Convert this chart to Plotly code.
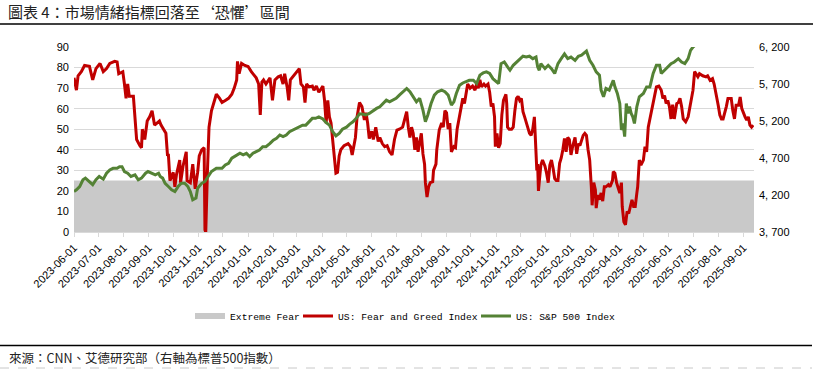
import plotly.graph_objects as go

# ---------------- data ----------------
fear_greed = [
    ("2023-06-01", 75), ("2023-06-04", 69), ("2023-06-06", 76), ("2023-06-10", 78), ("2023-06-14", 81),
    ("2023-06-20", 80.6), ("2023-06-24", 74), ("2023-06-28", 79.5), ("2023-07-03", 82), ("2023-07-07", 78),
    ("2023-07-11", 79.5), ("2023-07-15", 82), ("2023-07-21", 83), ("2023-07-24", 82.7), ("2023-07-26", 77),
    ("2023-07-31", 78), ("2023-08-02", 72), ("2023-08-04", 65), ("2023-08-06", 72), ("2023-08-08", 66),
    ("2023-08-13", 66), ("2023-08-16", 53), ("2023-08-17", 45), ("2023-08-21", 42), ("2023-08-23", 41),
    ("2023-08-24", 50), ("2023-08-27", 45), ("2023-08-30", 54), ("2023-09-02", 56), ("2023-09-05", 59),
    ("2023-09-08", 52), ("2023-09-11", 53), ("2023-09-14", 54), ("2023-09-16", 52), ("2023-09-19", 50),
    ("2023-09-22", 48), ("2023-09-24", 37), ("2023-09-25", 38), ("2023-09-27", 25), ("2023-10-01", 29),
    ("2023-10-03", 22), ("2023-10-05", 28), ("2023-10-09", 35), ("2023-10-10", 24), ("2023-10-13", 32),
    ("2023-10-17", 39), ("2023-10-18", 25), ("2023-10-22", 24), ("2023-10-25", 33), ("2023-10-28", 21),
    ("2023-10-31", 29), ("2023-11-02", 37), ("2023-11-05", 40), ("2023-11-08", 41), ("2023-11-09", 1),
    ("2023-11-10", 0), ("2023-11-12", 29), ("2023-11-14", 51), ("2023-11-17", 59), ("2023-11-21", 64),
    ("2023-11-23", 67), ("2023-11-27", 65), ("2023-11-30", 63), ("2023-12-04", 64), ("2023-12-08", 65),
    ("2023-12-12", 67), ("2023-12-15", 70), ("2023-12-18", 74), ("2023-12-19", 83), ("2023-12-21", 77),
    ("2023-12-24", 82), ("2023-12-28", 81), ("2024-01-01", 80.5), ("2024-01-05", 78), ("2024-01-11", 75),
    ("2024-01-14", 72), ("2024-01-16", 57), ("2024-01-18", 73), ("2024-01-20", 74), ("2024-01-23", 72),
    ("2024-01-28", 75), ("2024-01-31", 64), ("2024-02-03", 74), ("2024-02-07", 75.5), ("2024-02-10", 76),
    ("2024-02-13", 72), ("2024-02-15", 77), ("2024-02-18", 70.6), ("2024-02-20", 64), ("2024-02-22", 74),
    ("2024-02-25", 75.5), ("2024-02-29", 78), ("2024-03-04", 79.5), ("2024-03-06", 72), ("2024-03-09", 70.6),
    ("2024-03-11", 63), ("2024-03-13", 72), ("2024-03-16", 70.6), ("2024-03-20", 71), ("2024-03-22", 69),
    ("2024-03-25", 71), ("2024-03-28", 68), ("2024-04-02", 71), ("2024-04-04", 64), ("2024-04-06", 53),
    ("2024-04-08", 64), ("2024-04-10", 56), ("2024-04-12", 53), ("2024-04-14", 45), ("2024-04-16", 38),
    ("2024-04-18", 28.6), ("2024-04-20", 29), ("2024-04-22", 37), ("2024-04-24", 40), ("2024-04-28", 42),
    ("2024-05-03", 43), ("2024-05-06", 41.5), ("2024-05-08", 37.5), ("2024-05-10", 43), ("2024-05-12", 46),
    ("2024-05-14", 56), ("2024-05-17", 63), ("2024-05-20", 61), ("2024-05-23", 54.5), ("2024-05-25", 58),
    ("2024-05-27", 53), ("2024-05-29", 45.5), ("2024-06-01", 49), ("2024-06-03", 45), ("2024-06-06", 51),
    ("2024-06-09", 44), ("2024-06-11", 46), ("2024-06-14", 43), ("2024-06-17", 41.5), ("2024-06-20", 42),
    ("2024-06-23", 39), ("2024-06-26", 37.5), ("2024-06-29", 45), ("2024-07-02", 49.6), ("2024-07-05", 50),
    ("2024-07-09", 51), ("2024-07-12", 55), ("2024-07-14", 58.5), ("2024-07-16", 51), ("2024-07-18", 46),
    ("2024-07-20", 51), ("2024-07-22", 48), ("2024-07-24", 40), ("2024-07-26", 46), ("2024-07-28", 39),
    ("2024-07-30", 43), ("2024-08-01", 48), ("2024-08-03", 38), ("2024-08-05", 33), ("2024-08-06", 24),
    ("2024-08-08", 17), ("2024-08-10", 22), ("2024-08-12", 24), ("2024-08-15", 24.5), ("2024-08-16", 30),
    ("2024-08-19", 33), ("2024-08-20", 40), ("2024-08-23", 49.6), ("2024-08-26", 53), ("2024-08-28", 51),
    ("2024-08-30", 59), ("2024-09-01", 58), ("2024-09-03", 50), ("2024-09-05", 53), ("2024-09-07", 39),
    ("2024-09-10", 41.5), ("2024-09-12", 41), ("2024-09-14", 50), ("2024-09-16", 54.5), ("2024-09-19", 62.5),
    ("2024-09-21", 65), ("2024-09-23", 62.5), ("2024-09-25", 67), ("2024-09-27", 72), ("2024-09-30", 70),
    ("2024-10-03", 71), ("2024-10-06", 69), ("2024-10-08", 72), ("2024-10-10", 70), ("2024-10-12", 74),
    ("2024-10-14", 70.6), ("2024-10-17", 72), ("2024-10-19", 71), ("2024-10-22", 72), ("2024-10-24", 68),
    ("2024-10-26", 61), ("2024-10-28", 62.5), ("2024-10-30", 56), ("2024-10-31", 41.5), ("2024-11-02", 48),
    ("2024-11-04", 41), ("2024-11-06", 43), ("2024-11-08", 57), ("2024-11-10", 64), ("2024-11-13", 67),
    ("2024-11-14", 62.5), ("2024-11-15", 51), ("2024-11-17", 50), ("2024-11-20", 50), ("2024-11-22", 51),
    ("2024-11-24", 59), ("2024-11-26", 65), ("2024-11-28", 66), ("2024-11-30", 64), ("2024-12-02", 65),
    ("2024-12-04", 58.5), ("2024-12-06", 56), ("2024-12-08", 53.6), ("2024-12-10", 51), ("2024-12-12", 48),
    ("2024-12-14", 47), ("2024-12-16", 50), ("2024-12-18", 56), ("2024-12-19", 48), ("2024-12-20", 45),
    ("2024-12-21", 30), ("2024-12-22", 33), ("2024-12-23", 20), ("2024-12-25", 28.6), ("2024-12-26", 32.6),
    ("2024-12-28", 35), ("2024-12-31", 32), ("2025-01-02", 28.6), ("2025-01-04", 24), ("2025-01-06", 32.6),
    ("2025-01-08", 35), ("2025-01-10", 31), ("2025-01-12", 26), ("2025-01-14", 25), ("2025-01-16", 25),
    ("2025-01-18", 33.4), ("2025-01-20", 36), ("2025-01-22", 40), ("2025-01-24", 45.5), ("2025-01-26", 39),
    ("2025-01-28", 46), ("2025-01-30", 45), ("2025-02-01", 37.5), ("2025-02-03", 41.5), ("2025-02-06", 46),
    ("2025-02-08", 38), ("2025-02-10", 43), ("2025-02-12", 42), ("2025-02-14", 45), ("2025-02-16", 47),
    ("2025-02-18", 48), ("2025-02-20", 47), ("2025-02-22", 40), ("2025-02-24", 35), ("2025-02-26", 22),
    ("2025-02-27", 13), ("2025-03-01", 24), ("2025-03-03", 20.5), ("2025-03-04", 11.6), ("2025-03-06", 18),
    ("2025-03-08", 15.7), ("2025-03-10", 19), ("2025-03-12", 15), ("2025-03-14", 22), ("2025-03-16", 22),
    ("2025-03-19", 23), ("2025-03-21", 22), ("2025-03-24", 25), ("2025-03-25", 29.4), ("2025-03-27", 28.6),
    ("2025-03-29", 24), ("2025-03-31", 22), ("2025-04-02", 19), ("2025-04-04", 24), ("2025-04-05", 12.4),
    ("2025-04-07", 5), ("2025-04-09", 3.5), ("2025-04-11", 10), ("2025-04-13", 9), ("2025-04-15", 12.4),
    ("2025-04-17", 15.7), ("2025-04-19", 12.4), ("2025-04-21", 12.4), ("2025-04-23", 19), ("2025-04-24", 22),
    ("2025-04-26", 35), ("2025-04-28", 32.6), ("2025-05-01", 35), ("2025-05-03", 41.5), ("2025-05-05", 39),
    ("2025-05-07", 51), ("2025-05-09", 55), ("2025-05-11", 59), ("2025-05-14", 64), ("2025-05-17", 70.6),
    ("2025-05-20", 71), ("2025-05-23", 69), ("2025-05-25", 65), ("2025-05-27", 66.4), ("2025-05-29", 62.5),
    ("2025-05-31", 64), ("2025-06-02", 61), ("2025-06-04", 55), ("2025-06-06", 62), ("2025-06-08", 55),
    ("2025-06-11", 62.5), ("2025-06-13", 63), ("2025-06-15", 65), ("2025-06-17", 61), ("2025-06-19", 55),
    ("2025-06-22", 53.6), ("2025-06-25", 56), ("2025-06-27", 60), ("2025-06-29", 64), ("2025-07-01", 69),
    ("2025-07-03", 78), ("2025-07-05", 77), ("2025-07-07", 75.5), ("2025-07-09", 77), ("2025-07-13", 76),
    ("2025-07-17", 75.5), ("2025-07-19", 76), ("2025-07-22", 73.8), ("2025-07-25", 74.6), ("2025-07-27", 72),
    ("2025-07-29", 67), ("2025-08-01", 61.7), ("2025-08-03", 56.9), ("2025-08-05", 55), ("2025-08-07", 55),
    ("2025-08-09", 57.7), ("2025-08-11", 61), ("2025-08-13", 65), ("2025-08-17", 65), ("2025-08-19", 59),
    ("2025-08-21", 55), ("2025-08-23", 61.7), ("2025-08-26", 61.7), ("2025-08-28", 65.7), ("2025-08-30", 60),
    ("2025-09-03", 56), ("2025-09-05", 54.4), ("2025-09-07", 56), ("2025-09-09", 52), ("2025-09-11", 51),
    ("2025-09-13", 52),
]

sp500 = [
    ("2023-06-01", 4247), ("2023-06-04", 4270), ("2023-06-08", 4314), ("2023-06-12", 4406), ("2023-06-15", 4428),
    ("2023-06-20", 4383), ("2023-06-24", 4339), ("2023-06-28", 4406), ("2023-07-02", 4450), ("2023-07-07", 4414),
    ("2023-07-11", 4494), ("2023-07-15", 4539), ("2023-07-19", 4561), ("2023-07-24", 4561), ("2023-07-27", 4583),
    ("2023-07-30", 4583), ("2023-08-02", 4517), ("2023-08-06", 4494), ("2023-08-10", 4450), ("2023-08-15", 4472),
    ("2023-08-19", 4406), ("2023-08-23", 4428), ("2023-08-28", 4494), ("2023-08-31", 4517), ("2023-09-05", 4494),
    ("2023-09-09", 4472), ("2023-09-13", 4494), ("2023-09-15", 4450), ("2023-09-18", 4428), ("2023-09-21", 4358),
    ("2023-09-25", 4314), ("2023-09-29", 4270), ("2023-10-03", 4247), ("2023-10-07", 4314), ("2023-10-11", 4358),
    ("2023-10-15", 4358), ("2023-10-19", 4314), ("2023-10-22", 4247), ("2023-10-25", 4136), ("2023-10-29", 4158),
    ("2023-10-31", 4292), ("2023-11-05", 4358), ("2023-11-09", 4383), ("2023-11-13", 4450), ("2023-11-17", 4517),
    ("2023-11-23", 4561), ("2023-11-30", 4561), ("2023-12-04", 4606), ("2023-12-08", 4628), ("2023-12-12", 4697),
    ("2023-12-16", 4720), ("2023-12-22", 4764), ("2023-12-26", 4742), ("2023-12-30", 4764), ("2024-01-03", 4720),
    ("2024-01-07", 4764), ("2024-01-11", 4786), ("2024-01-15", 4808), ("2024-01-19", 4853), ("2024-01-23", 4853),
    ("2024-01-28", 4897), ("2024-02-01", 4942), ("2024-02-05", 4967), ("2024-02-09", 5011), ("2024-02-13", 4989),
    ("2024-02-17", 5011), ("2024-02-21", 5056), ("2024-02-25", 5078), ("2024-02-29", 5100), ("2024-03-04", 5117),
    ("2024-03-08", 5144), ("2024-03-12", 5144), ("2024-03-16", 5189), ("2024-03-20", 5236), ("2024-03-24", 5236),
    ("2024-03-28", 5256), ("2024-04-02", 5228), ("2024-04-06", 5178), ("2024-04-10", 5144), ("2024-04-14", 5056),
    ("2024-04-18", 5000), ("2024-04-22", 5033), ("2024-04-26", 5089), ("2024-05-01", 5117), ("2024-05-05", 5158),
    ("2024-05-09", 5189), ("2024-05-13", 5236), ("2024-05-17", 5297), ("2024-05-21", 5292), ("2024-05-25", 5281),
    ("2024-05-29", 5303), ("2024-06-03", 5347), ("2024-06-07", 5370), ("2024-06-11", 5392), ("2024-06-15", 5436),
    ("2024-06-19", 5481), ("2024-06-23", 5458), ("2024-06-27", 5481), ("2024-07-01", 5506), ("2024-07-05", 5550),
    ("2024-07-09", 5595), ("2024-07-14", 5639), ("2024-07-18", 5595), ("2024-07-22", 5528), ("2024-07-26", 5458),
    ("2024-07-30", 5506), ("2024-08-03", 5347), ("2024-08-06", 5189), ("2024-08-09", 5281), ("2024-08-13", 5436),
    ("2024-08-17", 5550), ("2024-08-21", 5595), ("2024-08-26", 5617), ("2024-08-30", 5595), ("2024-09-03", 5550),
    ("2024-09-07", 5414), ("2024-09-10", 5458), ("2024-09-13", 5572), ("2024-09-17", 5683), ("2024-09-21", 5714),
    ("2024-09-25", 5728), ("2024-09-29", 5750), ("2024-10-04", 5750), ("2024-10-08", 5706), ("2024-10-12", 5820),
    ("2024-10-16", 5850), ("2024-10-20", 5864), ("2024-10-24", 5842), ("2024-10-28", 5772), ("2024-11-01", 5728),
    ("2024-11-04", 5706), ("2024-11-07", 5975), ("2024-11-11", 5997), ("2024-11-15", 5931), ("2024-11-18", 5886),
    ("2024-11-22", 5953), ("2024-11-26", 5997), ("2024-11-30", 6042), ("2024-12-04", 6075), ("2024-12-08", 6064),
    ("2024-12-12", 6075), ("2024-12-16", 6042), ("2024-12-20", 6064), ("2024-12-22", 5931), ("2024-12-24", 5886),
    ("2024-12-26", 5975), ("2024-12-31", 5908), ("2025-01-04", 5953), ("2025-01-08", 5908), ("2025-01-12", 5842),
    ("2025-01-16", 5975), ("2025-01-20", 6042), ("2025-01-24", 6106), ("2025-01-28", 6042), ("2025-02-01", 6064),
    ("2025-02-06", 6020), ("2025-02-10", 6075), ("2025-02-14", 6089), ("2025-02-18", 6133), ("2025-02-20", 6144),
    ("2025-02-24", 6020), ("2025-02-28", 5953), ("2025-03-04", 5864), ("2025-03-08", 5820), ("2025-03-10", 5617),
    ("2025-03-13", 5528), ("2025-03-16", 5639), ("2025-03-20", 5617), ("2025-03-25", 5750), ("2025-03-27", 5661),
    ("2025-03-30", 5572), ("2025-04-02", 5436), ("2025-04-04", 5078), ("2025-04-06", 5167), ("2025-04-08", 4989),
    ("2025-04-10", 5436), ("2025-04-12", 5303), ("2025-04-14", 5394), ("2025-04-16", 5303), ("2025-04-18", 5256),
    ("2025-04-20", 5167), ("2025-04-23", 5394), ("2025-04-26", 5528), ("2025-05-01", 5572), ("2025-05-05", 5661),
    ("2025-05-09", 5661), ("2025-05-13", 5842), ("2025-05-17", 5953), ("2025-05-21", 5953), ("2025-05-23", 5842),
    ("2025-05-27", 5886), ("2025-05-31", 5931), ("2025-06-04", 5975), ("2025-06-08", 5997), ("2025-06-13", 6042),
    ("2025-06-17", 5997), ("2025-06-21", 5975), ("2025-06-25", 6042), ("2025-06-28", 6155), ("2025-07-01", 6200),
    ("2025-07-10", 6280), ("2025-07-20", 6300), ("2025-07-31", 6340), ("2025-08-10", 6390), ("2025-08-20", 6400),
    ("2025-08-31", 6460), ("2025-09-13", 6580),
]

fg_dates = [d for d, _ in fear_greed]
fg_values = [v for _, v in fear_greed]
sp_dates = [d for d, _ in sp500]
sp_values = [v for _, v in sp500]

extreme_fear_dates = ["2023-06-01", "2025-09-14"]
extreme_fear_level = [25, 25]

month_ticks = [f"{y}-{m:02d}-01" for y, m in
               [(2023, m) for m in range(6, 13)] + [(2024, m) for m in range(1, 13)] + [(2025, m) for m in range(1, 10)]]
right_tickvals = [3700, 4200, 4700, 5200, 5700, 6200]
right_ticktext = ["3, 700", "4, 200", "4, 700", "5, 200", "5, 700", "6, 200"]

title_text = "圖表 4：市場情緒指標回落至‘恐懼’區間"
source_text = "來源：CNN、艾德研究部（右軸為標普500指數）"

# ---------------- figure ----------------
W, H = 813, 370
L, R, T, B = 74, 59, 47, 138
pw, ph = W - L - R, H - T - B

def px_x(x):
    return (x - L) / pw

def px_y(y):
    return (H - B - y) / ph

fig = go.Figure()
fig.add_trace(go.Scatter(
    x=extreme_fear_dates, y=extreme_fear_level, name="Extreme Fear",
    mode="none", fill="tozeroy", fillcolor="#C9C9C9", hoverinfo="skip", legend="legend"))
fig.add_trace(go.Scatter(
    x=fg_dates, y=fg_values, name="US: Fear and Greed Index", mode="lines",
    line=dict(color="#C00000", width=3), legend="legend2"))
fig.add_trace(go.Scatter(
    x=sp_dates, y=sp_values, name="US: S&P 500 Index", mode="lines", yaxis="y2",
    line=dict(color="#548235", width=3), legend="legend3"))

tickfont = dict(family="Liberation Sans, Arial, sans-serif", size=11, color="#000000")
legfont = dict(family="Liberation Mono, DejaVu Sans Mono, monospace", size=9.7, color="#000000")

def leg(x_px):
    return dict(orientation="h", x=px_x(x_px), xanchor="left", y=px_y(316), yanchor="middle",
                font=legfont, itemwidth=30, bgcolor="rgba(0,0,0,0)", borderwidth=0)

fig.update_layout(
    width=W, height=H,
    margin=dict(l=L, r=R, t=T, b=B, pad=0, autoexpand=False),
    paper_bgcolor="white", plot_bgcolor="white",
    title=dict(text=title_text, x=8 / W, xanchor="left", y=1 - 13 / H, yanchor="middle",
               xref="container", yref="container",
               font=dict(family="Noto Sans CJK TC", size=15, color="#222222")),
    xaxis=dict(type="date", range=["2023-06-01", "2025-09-14"],
               tickvals=month_ticks, tickformat="%Y-%m-%d", tickangle=-45,
               ticks="outside", ticklen=4, tickcolor="#D9D9D9",
               showline=True, linecolor="#D9D9D9", linewidth=1,
               showgrid=False, zeroline=False, tickfont=tickfont, automargin=False),
    yaxis=dict(range=[0, 90], dtick=10, showgrid=True, gridcolor="#D9D9D9", gridwidth=1,
               zeroline=False, showline=False, tickfont=tickfont, ticklabelstandoff=4,
               automargin=False),
    yaxis2=dict(range=[3700, 6200], overlaying="y", side="right",
                tickvals=right_tickvals, ticktext=right_ticktext,
                showgrid=False, zeroline=False, showline=False,
                tickfont=tickfont, ticklabelstandoff=4, automargin=False),
    legend=leg(190),
    legend2=leg(298),
    legend3=leg(476),
    showlegend=True,
)

fig.add_shape(type="line", xref="paper", yref="paper",
              x0=px_x(0), x1=px_x(813), y0=px_y(24), y1=px_y(24),
              line=dict(color="#000000", width=1.5))
fig.add_shape(type="line", xref="paper", yref="paper",
              x0=px_x(0), x1=px_x(812), y0=px_y(345.5), y1=px_y(345.5),
              line=dict(color="#000000", width=1.5))
fig.add_shape(type="line", xref="paper", yref="paper",
              x0=px_x(0), x1=px_x(812), y0=px_y(368), y1=px_y(368),
              line=dict(color="#C8C8C8", width=1, dash="dash"))
fig.add_annotation(text=source_text, xref="paper", yref="paper",
                   x=px_x(7), xanchor="left", y=px_y(357), yanchor="middle",
                   showarrow=False,
                   font=dict(family="Noto Sans CJK TC", size=12.5, color="#222222"))

fig.write_html("out.html", config={"displayModeBar": False},
               post_script="document.body.style.margin='0';document.body.style.padding='0';"
                           "document.documentElement.style.overflow='hidden';")
